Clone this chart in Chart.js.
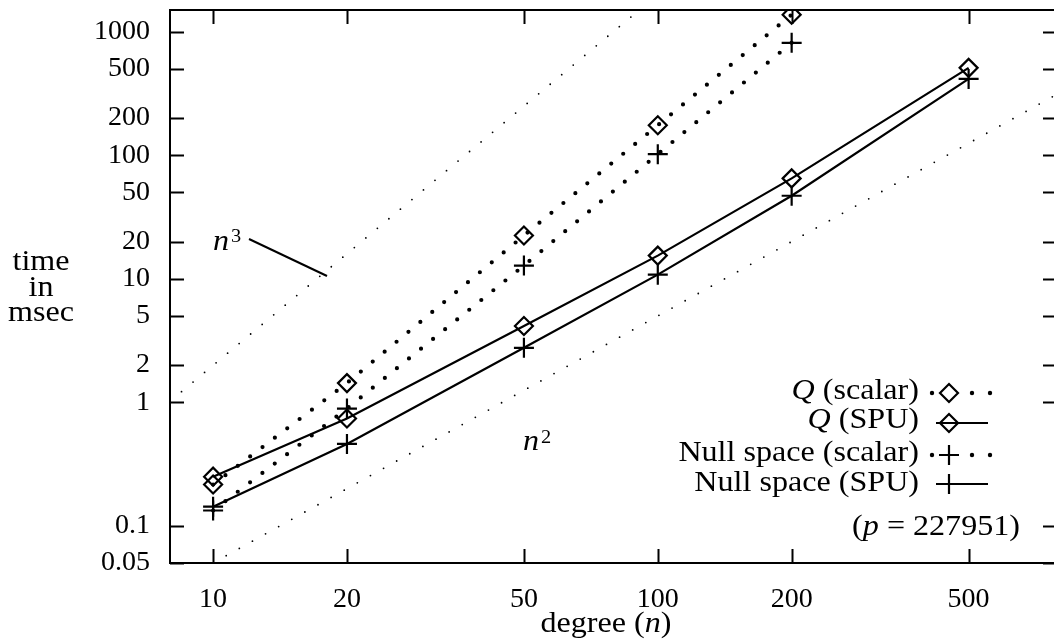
<!DOCTYPE html>
<html>
<head>
<meta charset="utf-8">
<script src="https://cdn.jsdelivr.net/npm/chart.js@4.4.0/dist/chart.umd.min.js"></script>
<style>
html, body { margin: 0; padding: 0; background: #fff; overflow: hidden; }
</style>
</head>
<body>
<canvas id="timeChart" width="1054" height="644"></canvas>
<script>
var degrees = [10, 20, 50, 100, 200, 500];
var qScalar = [0.216, 1.43, 22.4, 175, 1375];
var qSpu = [0.25, 0.74, 4.15, 15.4, 65, 510];
var nullScalar = [0.133, 0.89, 12.8, 102, 814];
var nullSpu = [0.143, 0.46, 2.76, 10.8, 47, 415];
var cubeGuide = [[8, 1.02], [100, 2000]];
var squareGuide = [[10, 0.05], [800, 320]];
var xTicks = [10, 20, 50, 100, 200, 500];
var yTicks = [0.05, 0.1, 1, 2, 5, 10, 20, 50, 100, 200, 500, 1000];

var FONT = '"Liberation Serif", "DejaVu Serif", serif';
var TEXT_SIZE = 30;
var STRETCH = 1.07;

function toPoints(xs, ys) {
    return ys.map(function(v, i) { return { x: xs[i], y: v }; });
}
function pairPoints(arr) {
    return arr.map(function(p) { return { x: p[0], y: p[1] }; });
}

function lineSet(label, data, marker, dots) {
    var ds = {
        label: label,
        data: data,
        showLine: true,
        borderColor: '#000',
        backgroundColor: 'rgba(0,0,0,0)',
        borderWidth: 2.2,
        pointStyle: marker,
        pointRadius: marker === 'cross' ? 10 : 9,
        pointBorderWidth: 2.2,
        pointBorderColor: '#000',
        pointBackgroundColor: 'rgba(0,0,0,0)'
    };
    if (dots) {
        ds.borderDash = [0, 15.5];
        ds.borderCapStyle = 'round';
        ds.borderWidth = 4.2;
    }
    return ds;
}

function guideSet(label, data) {
    return {
        label: label,
        data: data,
        showLine: true,
        borderColor: '#000',
        borderWidth: 1.8,
        borderDash: [0, 15],
        borderCapStyle: 'round',
        pointRadius: 0
    };
}

// text made of pieces, some italic; x is the anchor, y the baseline
function richText(ctx, parts, x, y, align, size) {
    var widths = parts.map(function(p) {
        ctx.font = (p[1] ? 'italic ' : '') + size + 'px ' + FONT;
        return ctx.measureText(p[0]).width;
    });
    var total = widths.reduce(function(a, b) { return a + b; }, 0);
    var start = align === 'right' ? -total : (align === 'center' ? -total / 2 : 0);
    ctx.save();
    ctx.translate(x, y);
    ctx.scale(STRETCH, 1);
    ctx.textAlign = 'left';
    ctx.textBaseline = 'alphabetic';
    parts.forEach(function(p, i) {
        ctx.font = (p[1] ? 'italic ' : '') + size + 'px ' + FONT;
        ctx.fillText(p[0], start, 0);
        start += widths[i];
    });
    ctx.restore();
}

var decorPlugin = {
    id: 'decor',
    afterDraw: function(chart) {
        var ctx = chart.ctx;
        var a = chart.chartArea;
        var xs = chart.scales.x, ys = chart.scales.y;
        var tl = 14;
        ctx.save();
        ctx.strokeStyle = '#000';
        ctx.fillStyle = '#000';
        ctx.lineWidth = 2;
        // frame: the right edge falls on the page border
        ctx.beginPath();
        ctx.moveTo(a.right + 2, a.top);
        ctx.lineTo(a.left, a.top);
        ctx.lineTo(a.left, a.bottom);
        ctx.lineTo(a.right + 2, a.bottom);
        ctx.stroke();
        ctx.beginPath();
        xTicks.forEach(function(v) {
            var px = Math.round(xs.getPixelForValue(v)) + 0.5;
            ctx.moveTo(px, a.bottom); ctx.lineTo(px, a.bottom - tl);
            ctx.moveTo(px, a.top); ctx.lineTo(px, a.top + tl);
        });
        yTicks.forEach(function(v) {
            var py = Math.round(ys.getPixelForValue(v)) + 0.5;
            ctx.moveTo(a.left, py); ctx.lineTo(a.left + tl, py);
            ctx.moveTo(a.right, py); ctx.lineTo(a.right - tl + 3, py);
        });
        ctx.stroke();

        richText(ctx, [['time', false]], 41, 270, 'center', TEXT_SIZE);
        richText(ctx, [['in', false]], 41, 296, 'center', TEXT_SIZE);
        richText(ctx, [['msec', false]], 41, 321, 'center', TEXT_SIZE);
        richText(ctx, [['degree (', false], ['n', true], [')', false]], 606, 632, 'center', TEXT_SIZE);

        // n^3 and n^2 notes
        richText(ctx, [['n', true]], 213, 250, 'left', TEXT_SIZE);
        richText(ctx, [['3', false]], 231, 242, 'left', 19);
        richText(ctx, [['n', true]], 523, 450, 'left', TEXT_SIZE);
        richText(ctx, [['2', false]], 541, 443, 'left', 19);
        ctx.beginPath();
        ctx.lineWidth = 2;
        ctx.moveTo(249, 239);
        ctx.lineTo(327, 276);
        ctx.stroke();

        // legend
        var rows = [
            { parts: [['Q', true], [' (scalar)', false]], y: 399, sy: 393, sym: 'rectRot', dots: true },
            { parts: [['Q', true], [' (SPU)', false]], y: 428, sy: 423, sym: 'rectRot', dots: false },
            { parts: [['Null space (scalar)', false]], y: 461, sy: 455, sym: 'cross', dots: true },
            { parts: [['Null space (SPU)', false]], y: 491, sy: 484, sym: 'cross', dots: false }
        ];
        rows.forEach(function(r) {
            richText(ctx, r.parts, 919, r.y, 'right', TEXT_SIZE);
            ctx.lineWidth = 2.2;
            if (r.dots) {
                [932, 972, 990].forEach(function(dx) {
                    ctx.beginPath();
                    ctx.arc(dx, r.sy, 2.2, 0, Math.PI * 2);
                    ctx.fill();
                });
            } else {
                ctx.beginPath();
                ctx.moveTo(936, r.sy);
                ctx.lineTo(988, r.sy);
                ctx.stroke();
            }
            ctx.save();
            ctx.fillStyle = 'rgba(0,0,0,0)';
            Chart.helpers.drawPoint(ctx, {
                pointStyle: r.sym,
                radius: r.sym === 'cross' ? 10 : 9,
                borderWidth: 2.2
            }, 949, r.sy);
            ctx.restore();
        });
        richText(ctx, [['(', false], ['p', true], [' = 227951)', false]], 1020, 535, 'right', TEXT_SIZE);
        ctx.restore();
    }
};

var ctx = document.getElementById('timeChart').getContext('2d');
var timeChart = new Chart(ctx, {
    type: 'scatter',
    data: {
        datasets: [
            lineSet('Q (scalar)', toPoints(degrees, qScalar), 'rectRot', true),
            lineSet('Q (SPU)', toPoints(degrees, qSpu), 'rectRot', false),
            lineSet('Null space (scalar)', toPoints(degrees, nullScalar), 'cross', true),
            lineSet('Null space (SPU)', toPoints(degrees, nullSpu), 'cross', false),
            guideSet('n^3', pairPoints(cubeGuide)),
            guideSet('n^2', pairPoints(squareGuide))
        ]
    },
    options: {
        responsive: false,
        animation: false,
        devicePixelRatio: 1,
        layout: { autoPadding: false, padding: { left: 0, top: 10, right: 0, bottom: 0 } },
        plugins: {
            legend: { display: false },
            tooltip: { enabled: false }
        },
        scales: {
            x: {
                type: 'logarithmic',
                min: 8,
                max: 778,
                grid: { display: false, drawTicks: false },
                border: { display: false },
                afterBuildTicks: function(scale) {
                    scale.ticks = xTicks.map(function(v) { return { value: v }; });
                },
                afterFit: function(scale) {
                    scale.height = 81;
                    scale.paddingLeft = 0;
                    scale.paddingRight = 0;
                },
                ticks: {
                    autoSkip: false,
                    maxRotation: 0,
                    padding: 20,
                    color: '#000',
                    font: { family: FONT, size: 28 },
                    callback: function(v) { return String(v); }
                }
            },
            y: {
                type: 'logarithmic',
                min: 0.05,
                max: 1500,
                grid: { display: false, drawTicks: false },
                border: { display: false },
                afterBuildTicks: function(scale) {
                    scale.ticks = yTicks.map(function(v) { return { value: v }; });
                },
                afterFit: function(scale) {
                    scale.width = 170;
                    scale.paddingTop = 0;
                    scale.paddingBottom = 0;
                },
                ticks: {
                    autoSkip: false,
                    padding: 20,
                    color: '#000',
                    font: { family: FONT, size: 28 },
                    callback: function(v) { return String(v); }
                }
            }
        }
    },
    plugins: [decorPlugin]
});
</script>
</body>
</html>
